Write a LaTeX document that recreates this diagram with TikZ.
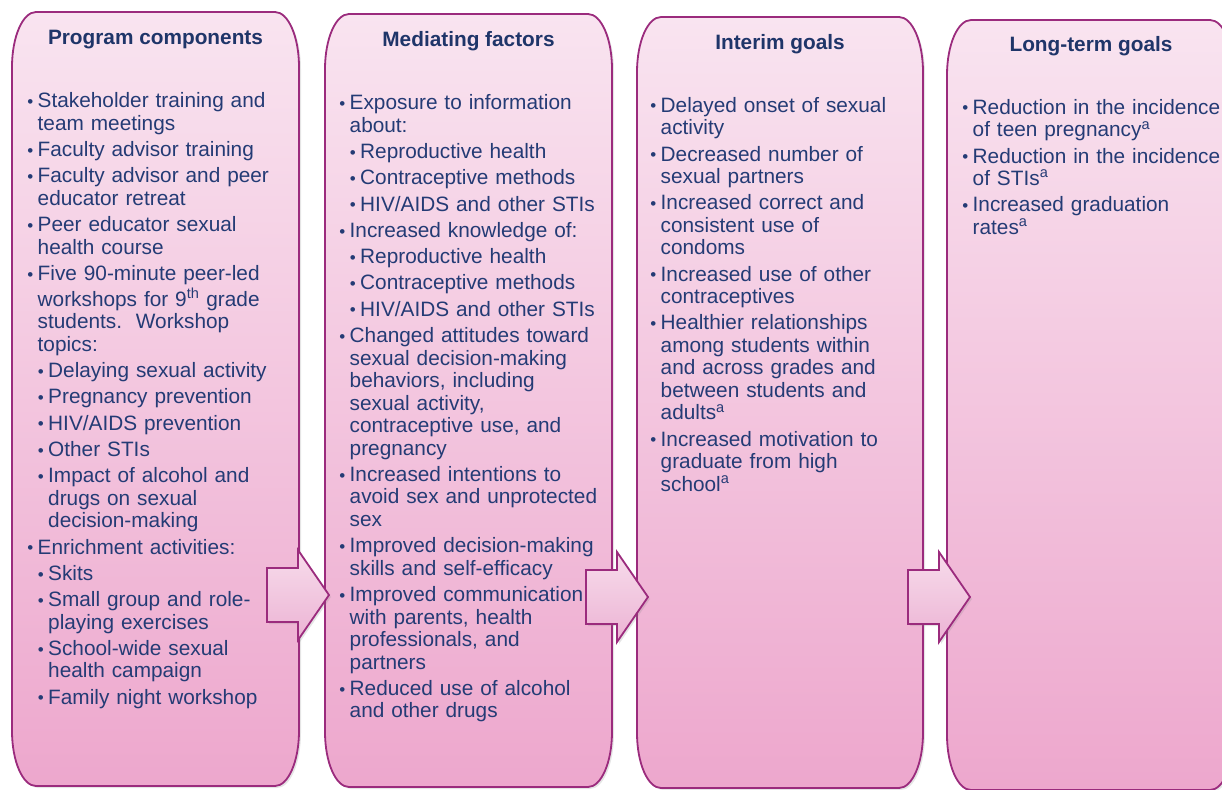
\documentclass[tikz,border=0pt]{standalone}
\usepackage{fontspec}
\setmainfont{Liberation Sans}
\usepackage{xcolor}
\usetikzlibrary{shadows}

\definecolor{navy}{HTML}{243B75}
\definecolor{headnavy}{HTML}{1F3569}
\definecolor{plum}{HTML}{9B2B7D}
\definecolor{pinktop}{HTML}{F9E4F0}
\definecolor{pinkbot}{HTML}{EDA7CD}
\definecolor{arrtop}{HTML}{F7DCEB}
\definecolor{arrbot}{HTML}{ECB3D4}

\newlength\bulw \setlength\bulw{9.5pt}
\newif\iffirstitm
\newcommand\itmgap{\iffirstitm\global\firstitmfalse\else\vskip3.8pt\fi}
\newcommand\bul{\hbox to\bulw{\strut\hskip-0.8pt\raisebox{0.3pt}{\fontsize{17}{17}\selectfont\textbullet}\hfil}}
\newcommand\itm[1]{\par\itmgap\hangindent=\bulw\hangafter=1\noindent\bul#1}
\newcommand\subitm[1]{\par\itmgap\begingroup\leftskip=10.5pt\hangindent=\bulw\hangafter=1\noindent\bul#1\par\endgroup}

\newcommand\logicbox[4]{%
  \path[goalbox] (#1,{#2+55}) .. controls (#1,{#2+24.6}) and ({#1+10.8},#2) .. ({#1+24},#2)
    -- ({#3-24},#2) .. controls ({#3-10.8},#2) and (#3,{#2+24.6}) .. (#3,{#2+55})
    -- (#3,{#4-55}) .. controls (#3,{#4-24.6}) and ({#3-10.8},#4) .. ({#3-24},#4)
    -- ({#1+24},#4) .. controls ({#1+10.8},#4) and (#1,{#4-24.6}) .. (#1,{#4-55}) -- cycle;}
\newcommand\blockarrow[2]{%
  \path[flowarrow] (#1,{#2-27}) -- ({#1+31},{#2-27}) -- ({#1+31},{#2-45}) -- ({#1+62},#2)
    -- ({#1+31},{#2+45}) -- ({#1+31},{#2+27}) -- (#1,{#2+27}) -- cycle;}

\tikzset{
  goalbox/.style={draw=plum, line width=1.8pt, top color=pinktop, bottom color=pinkbot,
    drop shadow={shadow xshift=2pt, shadow yshift=-2pt, opacity=0.2}},
  flowarrow/.style={draw=plum, line width=1.8pt, top color=arrtop, bottom color=arrbot,
    drop shadow={shadow xshift=2pt, shadow yshift=-2pt, opacity=0.2}},
  head/.style={anchor=base, inner sep=0pt, text=headnavy, font=\fontsize{20.8}{24}\selectfont\bfseries},
  bullets/.style={anchor=north west, inner sep=0pt, text width=300pt, align=left, text=navy,
    font=\fontsize{20.8}{22.5}\selectfont, execute at begin node={\global\firstitmtrue}}
}

\begin{document}
\begin{tikzpicture}[x=1pt, y=-1pt]
  \useasboundingbox (0,0) rectangle (1222,789);
  \clip (0,0) rectangle (1222,789);
  \fill[white] (0,0) rectangle (1222,789);

  \logicbox{12}{12}{299}{786}
  \logicbox{325}{14}{612}{787}
  \logicbox{637}{17}{923}{788}
  \logicbox{947}{20}{1234}{790}

  \node[head] (pchead) at (155.5,45) {Program components};
  \node[head] (mfhead) at (468.5,47) {Mediating factors};
  \node[head] (ighead) at (780,50) {Interim goals};
  \node[head] (lghead) at (1091,52) {Long-term goals};

  \node[bullets] (pclist) at (28,85) {%
    \itm{Stakeholder training and\newline team meetings}
    \itm{Faculty advisor training}
    \itm{Faculty advisor and peer\newline educator retreat}
    \itm{Peer educator sexual\newline health course}
    \itm{Five 90-minute peer-led\newline workshops for 9\textsuperscript{th} grade\newline students.\ \ Workshop\newline topics:}
    \subitm{Delaying sexual activity}
    \subitm{Pregnancy prevention}
    \subitm{HIV/AIDS prevention}
    \subitm{Other STIs}
    \subitm{Impact of alcohol and\newline drugs on sexual\newline decision-making}
    \itm{Enrichment activities:}
    \subitm{Skits}
    \subitm{Small group and role-\newline playing exercises}
    \subitm{School-wide sexual\newline health campaign}
    \subitm{Family night workshop}\par};

  \node[bullets] (mflist) at (340,87) {%
    \itm{Exposure to information\newline about:}
    \subitm{Reproductive health}
    \subitm{Contraceptive methods}
    \subitm{HIV/AIDS and other STIs}
    \itm{Increased knowledge of:}
    \subitm{Reproductive health}
    \subitm{Contraceptive methods}
    \subitm{HIV/AIDS and other STIs}
    \itm{Changed attitudes toward\newline sexual decision-making\newline behaviors, including\newline sexual activity,\newline contraceptive use, and\newline pregnancy}
    \itm{Increased intentions to\newline avoid sex and unprotected\newline sex}
    \itm{Improved decision-making\newline skills and self-efficacy}
    \itm{Improved communication\newline with parents, health\newline professionals, and\newline partners}
    \itm{Reduced use of alcohol\newline and other drugs}\par};

  \node[bullets] (iglist) at (651,89.5) {%
    \itm{Delayed onset of sexual\newline activity}
    \itm{Decreased number of\newline sexual partners}
    \itm{Increased correct and\newline consistent use of\newline condoms}
    \itm{Increased use of other\newline contraceptives}
    \itm{Healthier relationships\newline among students within\newline and across grades and\newline between students and\newline adults\textsuperscript{a}}
    \itm{Increased motivation to\newline graduate from high\newline school\textsuperscript{a}}\par};

  \node[bullets] (lglist) at (963,91.5) {%
    \itm{Reduction in the incidence\newline of teen pregnancy\textsuperscript{a}}
    \itm{Reduction in the incidence\newline of STIs\textsuperscript{a}}
    \itm{Increased graduation\newline rates\textsuperscript{a}}\par};

  \blockarrow{267}{595}
  \blockarrow{586}{597}
  \blockarrow{908}{597}
\end{tikzpicture}
\end{document}
